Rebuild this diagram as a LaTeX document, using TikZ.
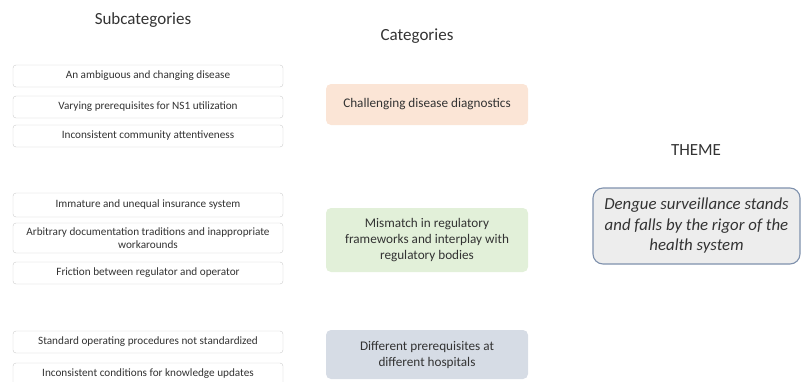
\documentclass[tikz,border=0pt]{standalone}
\usepackage{fontspec}
\setmainfont{Carlito}
\usepackage{tikz}
\definecolor{peach}{HTML}{FBE5D6}
\definecolor{mint}{HTML}{E2F0D9}
\definecolor{slate}{HTML}{D6DCE5}
\definecolor{themegray}{HTML}{EDEDED}
\definecolor{themeborder}{HTML}{7F91AD}
\definecolor{ink}{HTML}{333333}
\tikzstyle{title}=[font=\fontsize{17}{20}\selectfont, text=ink]
\tikzstyle{subbox}=[draw=black!20, rounded corners=3pt, fill=white, minimum width=270pt, minimum height=22pt, inner sep=1pt, align=center, font=\fontsize{11.2}{13}\selectfont, text=ink]
\tikzstyle{catbox}=[rounded corners=5pt, minimum width=202pt, inner sep=1pt, align=center, font=\fontsize{13.2}{16}\selectfont, text=ink]
\tikzstyle{themebox}=[draw=themeborder, line width=1.1pt, rounded corners=10pt, fill=themegray, minimum width=207pt, minimum height=76pt, inner sep=1pt, align=center, font=\fontsize{16.8}{20.5}\selectfont\itshape, text=ink]

\begin{document}
\begin{tikzpicture}[x=1pt, y=-1pt]
    \useasboundingbox (0,0) rectangle (801,381);

    % 見出し
    \node[title] (Hsub) at (143,20) {Subcategories};
    \node[title] (Hcat) at (417,36) {Categories};
    \node[title] (Hthm) at (696,150) {THEME};

    % サブカテゴリ（1）
    \node[subbox] (S1) at (148,76) {An ambiguous and changing disease};
    \node[subbox] (S2) at (148,107) {Varying prerequisites for NS1 utilization};
    \node[subbox] (S3) at (148,136) {Inconsistent community attentiveness};

    % サブカテゴリ（2）
    \node[subbox, minimum height=24pt] (S4) at (148,205) {Immature and unequal insurance system};
    \node[subbox, minimum height=30pt] (S5) at (148,238) {Arbitrary documentation traditions and inappropriate\\workarounds};
    \node[subbox] (S6) at (148,273) {Friction between regulator and operator};

    % サブカテゴリ（3）
    \node[subbox] (S7) at (148,342) {Standard operating procedures not standardized};
    \node[subbox] (S8) at (148,374) {Inconsistent conditions for knowledge updates};

    % カテゴリ
    \node[catbox, fill=peach, minimum height=41pt] (C1) at (427,104.5) {Challenging disease diagnostics};
    \node[catbox, fill=mint, minimum height=64pt] (C2) at (427,240) {Mismatch in regulatory\\frameworks and interplay with\\regulatory bodies};
    \node[catbox, fill=slate, minimum height=49pt] (C3) at (427,354.5) {Different prerequisites at\\different hospitals};

    % テーマ
    \node[themebox] (T) at (696.5,226) {Dengue surveillance stands\\and falls by the rigor of the\\health system};
\end{tikzpicture}
\end{document}
